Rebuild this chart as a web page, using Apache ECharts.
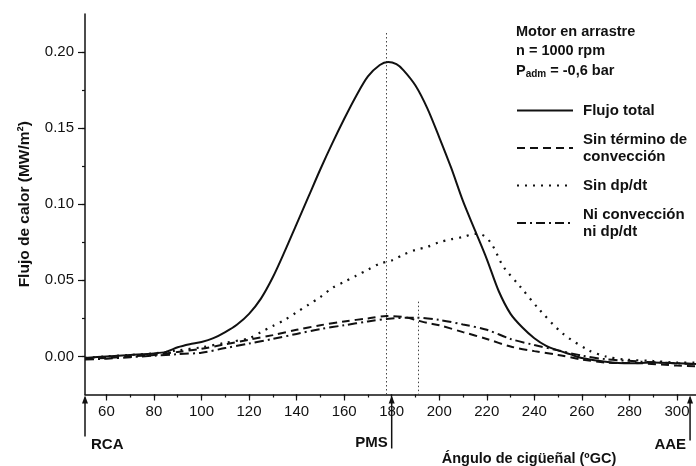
<!DOCTYPE html>
<html><head><meta charset="utf-8">
<script src="https://cdn.jsdelivr.net/npm/echarts@6/dist/echarts.min.js"></script>
<style>html,body{margin:0;padding:0;background:#fff}#c{width:696px;height:466px}</style>
</head><body><div id="c"></div>
<script>
// ---- data ----
const totalAngles = [51,60,70,80,85,90,95,100,105,110,115,120,125,130,135,140,145,150,155,160,165,170,175,178.5,182,185,190,195,200,205,210,215,220,225,230,235,240,245,250,255,260,270,280,290,300,308];
const totalValues = [-0.001,0.000,0.001,0.002,0.003,0.006,0.008,0.0095,0.012,0.016,0.021,0.028,0.038,0.052,0.069,0.087,0.105,0.123,0.140,0.156,0.171,0.184,0.1915,0.1935,0.192,0.188,0.178,0.163,0.144,0.124,0.102,0.083,0.064,0.043,0.028,0.019,0.012,0.007,0.004,0.0015,-0.001,-0.0035,-0.0045,-0.004,-0.0045,-0.005];

const noConvAngles = [51,60,70,80,90,100,110,120,130,140,150,160,170,178,185,190,195,200,210,220,230,240,250,260,270,285,300,308];
const noConvValues = [-0.0015,-0.001,0.000,0.001,0.003,0.005,0.008,0.011,0.014,0.0175,0.0205,0.023,0.025,0.0265,0.026,0.024,0.022,0.0205,0.016,0.0115,0.0065,0.0035,0.001,-0.002,-0.004,-0.0045,-0.006,-0.0065];

const noDpAngles = [51,60,70,80,90,100,110,120,125,130,135,140,145,150,155,160,165,170,175,180,185,190,195,200,205,210,215,218,222,227,234,242,252,263,270,278,290,300,308];
const noDpValues = [-0.001,0.000,0.001,0.002,0.004,0.006,0.009,0.012,0.016,0.020,0.024,0.029,0.034,0.039,0.045,0.049,0.053,0.057,0.061,0.063,0.067,0.070,0.072,0.075,0.077,0.0785,0.0805,0.080,0.074,0.059,0.046,0.031,0.015,0.004,0.000,-0.002,-0.003,-0.004,-0.004];

const neitherAngles = [51,60,70,80,90,100,110,120,130,140,150,160,170,180,190,200,210,220,230,240,250,260,270,285,300,308];
const neitherValues = [-0.002,-0.0015,-0.0005,0.0005,0.0015,0.0025,0.0055,0.0085,0.0115,0.0148,0.018,0.0205,0.023,0.025,0.0255,0.024,0.021,0.0175,0.0115,0.0075,0.004,0.0005,-0.0018,-0.0034,-0.0045,-0.005];

const seriesNames = ['Flujo total', 'Sin término de\nconvección', 'Sin dp/dt', 'Ni convección\nni dp/dt'];

const xMin = 51, xMax = 308;
const xMajorTicks = [60,80,100,120,140,160,180,200,220,240,260,280,300];
const xMinorTicks = [60,70,80,90,100,110,120,130,140,150,160,170,180,190,200,210,220,230,240,250,260,270,280,290,300];
const yMin = -0.025, yMax = 0.225;
const yMajorTicks = [0, 0.05, 0.10, 0.15, 0.20];
const yMinorTicks = [0, 0.025, 0.05, 0.075, 0.10, 0.125, 0.15, 0.175, 0.20];

// dotted reference lines: [angle, top value]
const refLines = [[177.8, 0.2125], [191, 0.036]];
// crank events under the axis
const events = [{name:'RCA', angle:51}, {name:'PMS', angle:180}, {name:'AAE', angle:305.5}];

const FONT = '"Liberation Sans", Arial, sans-serif';
const INK = '#111';

function pairs(a, v){ return a.map((x,i)=>[x, v[i]]); }

const lineBase = {type:'line', showSymbol:false, symbol:'none', smooth:0.3, clip:true,
  emphasis:{disabled:true}, silent:true};

const option = {
  animation:false,
  backgroundColor:'#fff',
  grid:{left:85, right:0, top:14, bottom:71.5, containLabel:false},
  xAxis:[
    {type:'value', min:xMin, max:xMax, position:'bottom',
     axisLine:{onZero:false, lineStyle:{color:INK, width:1.5}},
     axisTick:{show:true, length:3, customValues:xMinorTicks, lineStyle:{color:INK, width:1.2}},
     axisLabel:{show:false}, splitLine:{show:false}},
    {type:'value', min:xMin, max:xMax, position:'bottom',
     axisLine:{show:false, onZero:false},
     axisTick:{show:true, length:6, customValues:xMajorTicks, lineStyle:{color:INK, width:1.2}},
     axisLabel:{show:true, customValues:xMajorTicks, color:INK, fontSize:15, fontFamily:FONT, margin:10},
     splitLine:{show:false}}
  ],
  yAxis:[
    {type:'value', min:yMin, max:yMax, position:'left',
     axisLine:{show:true, onZero:false, lineStyle:{color:INK, width:1.5}},
     axisTick:{show:true, length:3, customValues:yMinorTicks, lineStyle:{color:INK, width:1.2}},
     axisLabel:{show:false}, splitLine:{show:false}},
    {type:'value', min:yMin, max:yMax, position:'left',
     axisLine:{show:false, onZero:false},
     axisTick:{show:true, length:7, customValues:yMajorTicks, lineStyle:{color:INK, width:1.2}},
     axisLabel:{show:true, customValues:yMajorTicks, color:INK, fontSize:15, fontFamily:FONT, margin:11,
       formatter:v=>v.toFixed(2)},
     name:'Flujo de calor (MW/m²)', nameLocation:'middle', nameGap:52,
     nameTextStyle:{color:INK, fontSize:15.5, fontWeight:'bold', fontFamily:FONT},
     splitLine:{show:false}}
  ],
  legend:{
    orient:'vertical', left:511, top:97, itemWidth:56, itemHeight:12, itemGap:12,
    selectedMode:false,
    itemStyle:{opacity:0},
    textStyle:{color:INK, fontSize:15, fontWeight:'bold', fontFamily:FONT, lineHeight:17, padding:[0,0,0,5]},
    data:seriesNames
  },
  series:[
    Object.assign({}, lineBase, {name:seriesNames[0], data:pairs(totalAngles,totalValues),
      lineStyle:{color:INK, width:2, type:'solid'}, z:5,
      markLine:{silent:true, symbol:['none','none'], label:{show:false},
        lineStyle:{color:'#444', width:1, type:[1.5,2.5]},
        data: refLines.map(r=>[{coord:[r[0], r[1]]},{coord:[r[0], yMin]}])}}),
    Object.assign({}, lineBase, {name:seriesNames[1], data:pairs(noConvAngles,noConvValues),
      lineStyle:{color:INK, width:2, type:[8,5]}}),
    Object.assign({}, lineBase, {name:seriesNames[2], data:pairs(noDpAngles,noDpValues),
      lineStyle:{color:INK, width:2.2, type:[2,6]}}),
    Object.assign({}, lineBase, {name:seriesNames[3], data:pairs(neitherAngles,neitherValues),
      lineStyle:{color:INK, width:2, type:[9,4,2,4]}})
  ]
};

const chart = echarts.init(document.getElementById('c'), null, {renderer:'canvas'});
chart.setOption(option);

// annotations positioned through the axes
const axisY = chart.convertToPixel({yAxisIndex:0}, yMin);
const gfx = [];
const evLayout = {RCA:{len:42, side:'right', dy:50}, PMS:{len:54, side:'left', dy:48}, AAE:{len:46, side:'left', dy:50}};
events.forEach(ev=>{
  const x = chart.convertToPixel({xAxisIndex:0}, ev.angle);
  const L = evLayout[ev.name];
  gfx.push({type:'line', shape:{x1:x, y1:axisY+3, x2:x, y2:axisY+L.len}, style:{stroke:INK, lineWidth:1.5}, silent:true});
  gfx.push({type:'polygon', shape:{points:[[x, axisY+1],[x-3, axisY+9],[x+3, axisY+9]]}, style:{fill:INK}, silent:true});
  gfx.push({type:'text', x: L.side==='right' ? x+6 : x-4, y: axisY+L.dy,
    style:{text:ev.name, fill:INK, font:'bold 15px '+FONT, align: L.side==='right'?'left':'right', verticalAlign:'middle'}, silent:true});
});
gfx.push({type:'text', x:529, y:459, style:{text:'Ángulo de cigüeñal (ºGC)', fill:INK, font:'bold 14.5px '+FONT, align:'center', verticalAlign:'middle'}, silent:true});
gfx.push({type:'text', x:516, y:32, style:{text:'Motor en arrastre', fill:INK, font:'bold 14.5px '+FONT, verticalAlign:'middle'}, silent:true});
gfx.push({type:'text', x:516, y:51, style:{text:'n = 1000 rpm', fill:INK, font:'bold 14.5px '+FONT, verticalAlign:'middle'}, silent:true});
gfx.push({type:'text', x:516, y:71, style:{text:'{p|P}{s|adm}{p| = -0,6 bar}', verticalAlign:'middle',
  rich:{p:{fill:INK, font:'bold 14.5px '+FONT}, s:{fill:INK, font:'bold 10px '+FONT, padding:[6,0,0,0]}}}, silent:true});
chart.setOption({graphic:gfx});
</script></body></html>
